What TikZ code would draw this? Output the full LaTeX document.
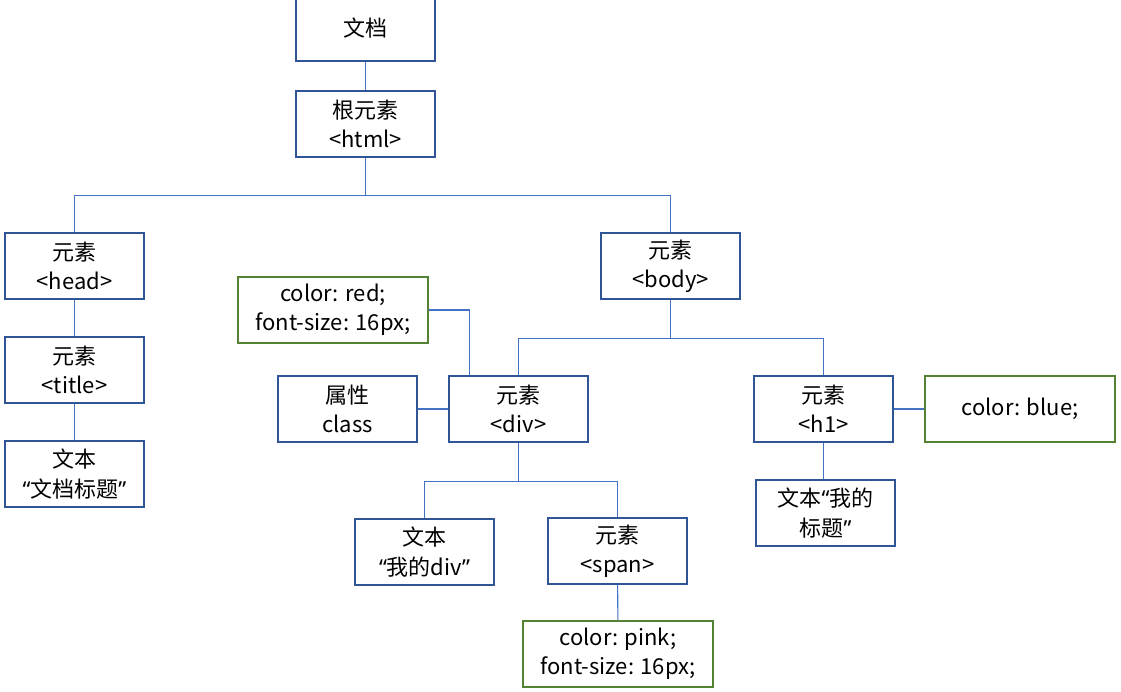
\documentclass[tikz,border=0pt]{standalone}
\usepackage{fontspec}
\setmainfont{Noto Sans CJK SC}
\newfontfamily\quotefont{Noto Sans}
\newcommand\openq{{\quotefont “}}
\newcommand\closeq{{\quotefont ”}}
\definecolor{boxblue}{HTML}{2F5597}
\definecolor{lineblue}{HTML}{4472C4}
\definecolor{cssgreen}{HTML}{548235}
\begin{document}
	\begin{tikzpicture}[x=.75pt,y=-.75pt,
		box/.style={draw=boxblue,line width=.9pt,minimum width=104.25pt,minimum height=49.5pt,align=center,inner sep=0pt,font=\fontsize{16.5}{22}\selectfont},
		css/.style={box,draw=cssgreen,minimum width=142.5pt},
		link/.style={draw=lineblue,line width=.8pt}]
		\useasboundingbox (0,0) rectangle (1121,692);

		\node[box] (doc) at (365.5,28){文档};
		\node[box] (html) at (365.5,124){根元素\\<html>};

		\node[box] (head) at (74.5,266){元素\\<head>};
		\node[box] (title) at (74.5,370){元素\\<title>};
		\node[box] (headtext) at (74.5,474){文本\\\openq 文档标题\closeq};

		\node[box] (body) at (670.5,266){元素\\<body>};
		\node[css] (red) at (333,310){color: red;\\font-size: 16px;};
		\node[box] (class) at (347.5,409){属性\\class};
		\node[box] (div) at (518.5,409){元素\\<div>};
		\node[box] (h1) at (823.5,409){元素\\<h1>};
		\node[css] (blue) at (1020,409){color: blue;};
		\node[box] (h1text) at (825.5,513){文本\openq 我的\\标题\closeq};

		\node[box] (divtext) at (424.5,552){文本\\\openq 我的div\closeq};
		\node[box] (span) at (617.5,551){元素\\<span>};
		\node[css] (pink) at (618,654){color: pink;\\font-size: 16px;};

		\draw[link] (doc)--(html);
		\draw[link] (html.south)--++(0,38) coordinate (htmlfork);
		\draw[link] (htmlfork)-|(head.north);
		\draw[link] (htmlfork)-|(body.north);

		\draw[link] (head)--(title);
		\draw[link] (title)--(headtext);

		\draw[link] (body.south)--++(0,39) coordinate (bodyfork);
		\draw[link] (bodyfork)-|(div.north);
		\draw[link] (bodyfork)-|(h1.north);

		\draw[link] (red.east)-|([xshift=15.75pt]div.north west);
		\draw[link] (class)--(div);
		\draw[link] (h1)--(blue);
		\draw[link] (h1.south)--(h1.south|-h1text.north);

		\draw[link] (div.south)--++(0,39) coordinate (divfork);
		\draw[link] (divfork)-|(divtext.north);
		\draw[link] (divfork)-|(span.north);
		\draw[link] (span)--(pink);
	\end{tikzpicture}
\end{document}
